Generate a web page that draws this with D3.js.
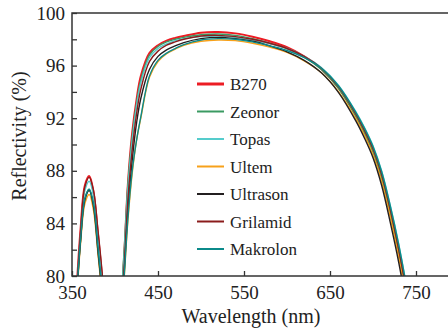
<!DOCTYPE html>
<html>
  <head>
    <title>Reflectivity</title>
    <style>
      body { margin: 0; background: #fff; }
    </style>
  </head>
  <body>
    <div id="chart"></div>
  </body>
  <script src="https://d3js.org/d3.v7.min.js"></script>
  <script>

    // wavelengths (nm) shared by every series
    let wavelength = [355, 360, 365, 370, 375, 380, 385, 390,
      405, 410, 415, 420, 425, 430, 440, 450, 460, 470, 480, 500, 520,
      540, 560, 580, 600, 620, 640, 660, 680, 690, 700, 710, 720, 730, 740, 750];

    // reflectivity (%)
    let b270 = [78.6, 83.6, 86.9, 87.6, 86.4, 83.3, 79.9, 75.5,
      76, 80.7, 87.0, 90.9, 93.4, 95.2, 96.95, 97.55, 97.9, 98.1, 98.25, 98.5, 98.55,
      98.45, 98.2, 97.85, 97.4, 96.7, 95.75, 94.3, 92.2, 90.95, 89.5, 87.5, 84.8, 81.7, 78.0, 73.5];
    let zeonor = [78.0, 82.8, 85.9, 86.6, 85.4, 82.2, 78.8, 74.5,
      77.5, 81.3, 87.0, 90.6, 93.1, 94.9, 96.8, 97.45, 97.8, 98.0, 98.15, 98.35, 98.4,
      98.3, 98.05, 97.7, 97.3, 96.65, 95.7, 94.25, 92.15, 90.9, 89.45, 87.45, 84.75, 81.65, 78.0, 73.5];
    let topas = [78.2, 83.2, 86.5, 87.2, 86.1, 83.0, 79.6, 75.2,
      76.8, 80.8, 86.6, 90.3, 92.9, 94.7, 96.6, 97.3, 97.65, 97.9, 98.05, 98.2, 98.25,
      98.15, 97.95, 97.65, 97.3, 96.7, 95.85, 94.5, 92.5, 91.3, 89.9, 88.0, 85.4, 82.4, 78.8, 74.5];
    let ultem = [77.8, 82.5, 85.5, 86.2, 85.0, 81.8, 78.4, 74,
      75.0, 79.2, 84.2, 87.8, 90.3, 92.0, 95.1, 96.3, 96.9, 97.25, 97.55, 97.85, 97.95,
      97.9, 97.7, 97.4, 97.0, 96.35, 95.45, 94.0, 91.95, 90.7, 89.2, 87.2, 84.5, 81.4, 77.8, 73.3];
    let ultrason = [78.0, 82.7, 85.8, 86.5, 85.3, 82.0, 78.6, 74.2,
      75.2, 79.6, 85.0, 88.8, 91.6, 93.5, 95.7, 96.7, 97.2, 97.5, 97.75, 98.05, 98.15,
      98.05, 97.85, 97.5, 97.05, 96.4, 95.45, 93.95, 91.8, 90.5, 89.0, 86.9, 84.1, 81.0, 77.3, 73];
    let grilamid = [78.3, 83.4, 86.8, 87.5, 86.5, 83.6, 80.3, 76,
      75.8, 80.0, 85.8, 89.6, 92.3, 94.2, 96.3, 97.1, 97.55, 97.8, 98.0, 98.25, 98.3,
      98.2, 98.0, 97.7, 97.3, 96.7, 95.8, 94.4, 92.35, 91.1, 89.7, 87.75, 85.1, 82.0, 78.4, 74];
    let makrolon = [78.1, 82.8, 85.9, 86.6, 85.5, 82.3, 78.9, 74.6,
      75.0, 79.3, 84.4, 88.0, 90.3, 92.1, 95.2, 96.4, 96.95, 97.3, 97.6, 97.95, 98.05,
      98.0, 97.8, 97.5, 97.15, 96.6, 95.8, 94.45, 92.45, 91.25, 89.85, 87.95, 85.35, 82.35, 78.8, 74.5];

    let names = ["B270", "Zeonor", "Topas", "Ultem", "Ultrason", "Grilamid", "Makrolon"];
    let colors = ["#ec1c24", "#3b9a62", "#55cccc", "#f7a11a", "#231f20", "#8b1c1c", "#0b8a8a"];
    let seriesValues = [b270, zeonor, topas, ultem, ultrason, grilamid, makrolon];

    let xTicks = [350, 450, 550, 650, 750];
    let yTicks = [80, 82, 84, 86, 88, 90, 92, 94, 96, 98, 100];
    let yLabels = [80, 84, 88, 92, 96, 100];

    let font = "'Liberation Serif', 'DejaVu Serif', serif";
    let width = 448, height = 331;
    let margin = {top: 13, left: 72, bottom: 55};

    let xScale = d3.scaleLinear().domain([350, 800]).range([margin.left, margin.left + 450 * 0.86]);
    let yScale = d3.scaleLinear().domain([80, 100]).range([height - margin.bottom, margin.top]);

    let svg = d3.select("#chart").append("svg")
      .attr("width", width)
      .attr("height", height);

    svg.append("clipPath").attr("id", "plot-clip")
      .append("rect")
      .attr("x", xScale(350)).attr("y", yScale(100))
      .attr("width", xScale(800) - xScale(350))
      .attr("height", yScale(80) - yScale(100));

    // curves
    let line = d3.line()
      .x(function(d, i) { return xScale(wavelength[i]); })
      .y(function(d) { return yScale(d); })
      .curve(d3.curveCatmullRom.alpha(0.5));

    let curves = svg.append("g").attr("clip-path", "url(#plot-clip)");
    seriesValues.forEach(function(vals, i) {
      curves.append("path")
        .attr("d", line(vals))
        .attr("fill", "none")
        .attr("stroke", colors[i])
        .attr("stroke-width", i === 0 ? 2 : 1.4);
    });

    // frame
    svg.append("rect")
      .attr("x", xScale(350)).attr("y", yScale(100))
      .attr("width", xScale(800) - xScale(350))
      .attr("height", yScale(80) - yScale(100))
      .attr("fill", "none")
      .attr("stroke", "#333")
      .attr("stroke-width", 1.5);

    // y axis, ticks pointing inward
    let yAxis = svg.append("g")
      .attr("transform", "translate(" + margin.left + ",0)")
      .call(d3.axisLeft(yScale)
        .tickValues(yTicks)
        .tickSize(-5)
        .tickPadding(7)
        .tickFormat(function(d) { return yLabels.indexOf(d) >= 0 ? d : ""; }));
    yAxis.select(".domain").remove();
    yAxis.selectAll("line").attr("stroke", "#333").attr("stroke-width", 1.3);
    yAxis.selectAll("text").style("font-size", "19px").style("font-family", font).attr("fill", "#222");

    // x axis, ticks pointing inward
    let xAxis = svg.append("g")
      .attr("transform", "translate(0," + yScale(80) + ")")
      .call(d3.axisBottom(xScale)
        .tickValues(xTicks)
        .tickSize(-5)
        .tickPadding(10)
        .tickFormat(d3.format("d")));
    xAxis.select(".domain").remove();
    xAxis.selectAll("line").attr("stroke", "#333").attr("stroke-width", 1.3);
    xAxis.selectAll("text").style("font-size", "19px").style("font-family", font).attr("fill", "#222");

    // axis titles
    svg.append("text")
      .attr("x", 251).attr("y", 323)
      .attr("text-anchor", "middle")
      .style("font-family", font)
      .style("font-size", "20px")
      .attr("fill", "#222")
      .text("Wavelength (nm)");

    svg.append("text")
      .attr("transform", "translate(26,136) rotate(-90)")
      .attr("text-anchor", "middle")
      .style("font-family", font)
      .style("font-size", "20px")
      .attr("fill", "#222")
      .text("Reflectivity (%)");

    // legend
    let legend = svg.append("g").attr("transform", "translate(197,84)");
    names.forEach(function(name, i) {
      let row = legend.append("g").attr("transform", "translate(0," + (i * 27.5) + ")");
      row.append("line")
        .attr("x1", 0).attr("x2", 27)
        .attr("stroke", colors[i])
        .attr("stroke-width", i === 0 ? 3 : 2);
      row.append("text")
        .attr("x", 33).attr("y", 6)
        .style("font-family", font)
        .style("font-size", "17px")
        .attr("fill", "#222")
        .text(name);
    });

  </script>
</html>
